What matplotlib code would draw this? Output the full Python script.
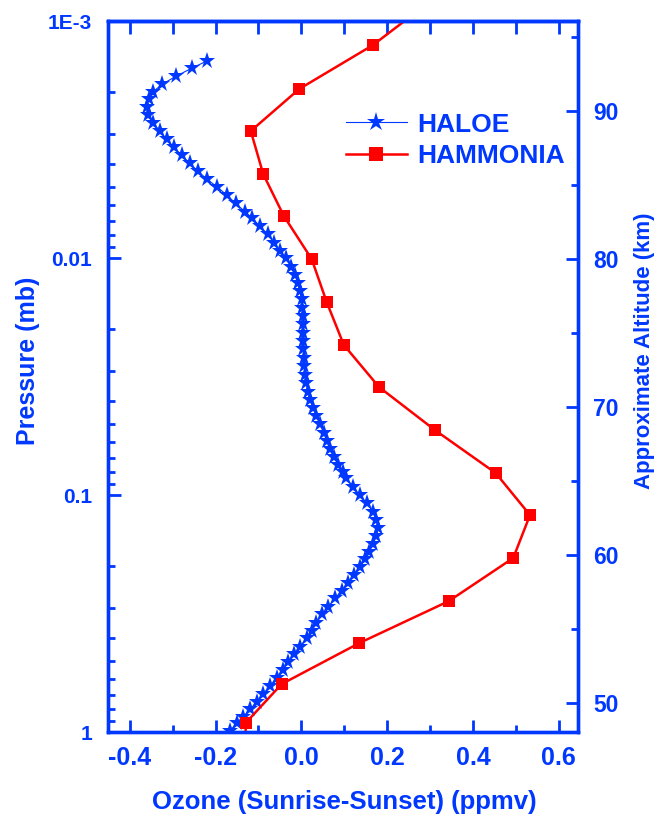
import matplotlib
matplotlib.use("Agg")
import matplotlib.pyplot as plt
from matplotlib.ticker import FixedLocator, FixedFormatter, MultipleLocator, LogLocator, NullFormatter

# HALOE sunrise-minus-sunset ozone (ppmv) vs approximate altitude (km)
haloe_alt = [93.40, 92.89, 92.34, 91.82, 91.30, 90.79, 90.25, 89.73, 89.21, 88.65,
             88.09, 87.55, 87.01, 86.47, 85.93, 85.39, 84.86, 84.32, 83.76, 83.21,
             82.75, 82.23, 81.69, 81.10, 80.56, 80.05, 79.48, 78.92, 78.40, 77.84,
             77.28, 76.71, 76.15, 75.59, 75.02, 74.46, 73.90, 73.33, 72.77, 72.16,
             71.62, 71.03, 70.47, 69.91, 69.39, 68.83, 68.26, 67.70, 67.14, 66.60,
             66.08, 65.63, 65.18, 64.61, 64.05, 63.53, 62.93, 62.36, 61.80, 61.28,
             60.74, 60.20, 59.71, 59.21, 58.65, 58.13, 57.59, 57.07, 56.51, 55.99,
             55.43, 54.86, 54.37, 53.80, 53.29, 52.75, 52.23, 51.71, 51.17, 50.61,
             50.09, 49.57, 49.07, 48.63, 48.14]
haloe_ozone = [-0.219, -0.256, -0.293, -0.324, -0.346, -0.356, -0.361, -0.357, -0.346, -0.330,
               -0.314, -0.297, -0.279, -0.260, -0.241, -0.220, -0.196, -0.174, -0.153, -0.132,
               -0.114, -0.097, -0.079, -0.064, -0.050, -0.036, -0.025, -0.015, -0.009, -0.004,
               0.001, 0.002, 0.003, 0.003, 0.004, 0.004, 0.004, 0.006, 0.007, 0.008,
               0.011, 0.015, 0.020, 0.028, 0.035, 0.043, 0.052, 0.059, 0.066, 0.076,
               0.086, 0.096, 0.105, 0.121, 0.136, 0.152, 0.167, 0.175, 0.179, 0.175,
               0.167, 0.158, 0.148, 0.136, 0.122, 0.108, 0.094, 0.078, 0.063, 0.049,
               0.035, 0.024, 0.012, -0.004, -0.017, -0.031, -0.044, -0.058, -0.073, -0.089,
               -0.104, -0.120, -0.136, -0.150, -0.167]

# HAMMONIA model levels
hammonia_alt = [97.4, 94.46, 91.49, 88.65, 85.74, 82.91, 80.0, 77.09, 74.19, 71.35,
                68.45, 65.54, 62.70, 59.80, 56.89, 54.05, 51.28, 48.65, 45.8]
hammonia_ozone = [0.30, 0.167, -0.005, -0.118, -0.089, -0.041, 0.024, 0.059, 0.099, 0.181,
                  0.311, 0.453, 0.533, 0.494, 0.344, 0.135, -0.046, -0.130, -0.130]

pressure_ticks = [1e-3, 1e-2, 1e-1, 1]
pressure_labels = ["1E-3", "0.01", "0.1", "1"]
alt_ticks = [50, 60, 70, 80, 90]

blue = "#0038ff"
red = "#ff0000"

plt.rcParams["font.family"] = ["Liberation Sans", "DejaVu Sans"]
plt.rcParams["font.weight"] = "bold"
plt.rcParams["axes.unicode_minus"] = False

fig = plt.figure(figsize=(6.65, 8.19), dpi=100)
ax = fig.add_axes([0.1617, 0.1062, 0.7075, 0.8681])

# pressure axis (left)
ax.set_yscale("log")
ax.set_ylim(1, 1e-3)
ax.set_xlim(-0.452, 0.645)
ax.yaxis.set_major_locator(FixedLocator(pressure_ticks))
ax.yaxis.set_major_formatter(FixedFormatter(pressure_labels))
ax.yaxis.set_minor_locator(LogLocator(base=10, subs=range(2, 10)))
ax.yaxis.set_minor_formatter(NullFormatter())
ax.xaxis.set_major_locator(MultipleLocator(0.2))
ax.xaxis.set_minor_locator(MultipleLocator(0.1))
ax.xaxis.set_major_formatter(lambda v, pos: "%.1f" % v)

for s in ax.spines.values():
    s.set_color(blue)
    s.set_linewidth(2.4)
ax.tick_params(which="both", direction="in", colors=blue, width=2,
               top=False, right=False, pad=11)
ax.tick_params(axis="y", labelsize=15)
ax.tick_params(axis="x", labelsize=18, pad=10)
ax.tick_params(which="major", length=9)
ax.tick_params(which="minor", length=5)

ax.set_ylabel("Pressure (mb)", color=blue, fontsize=18, fontweight="bold")
ax.yaxis.set_label_coords(-0.1435, 0.522)
ax.set_xlabel("Ozone (Sunrise-Sunset) (ppmv)", color=blue, fontsize=18.5, fontweight="bold")
ax.xaxis.set_label_coords(0.503, -0.082)

# top edge: every 0.1 tick drawn full length
top = ax.secondary_xaxis("top")
top.xaxis.set_major_locator(MultipleLocator(0.1))
top.tick_params(direction="in", length=9, width=2, colors=blue, labeltop=False)
top.spines["top"].set_color(blue)
top.spines["top"].set_linewidth(2.4)

# altitude axis (right)
ax2 = ax.twinx()
ax2.set_ylim(48.04, 96.08)
ax2.yaxis.set_major_locator(FixedLocator(alt_ticks))
ax2.yaxis.set_minor_locator(MultipleLocator(5))
for s in ax2.spines.values():
    s.set_color(blue)
    s.set_linewidth(2.4)
ax2.tick_params(which="both", direction="in", colors=blue, width=2, labelsize=16.5, pad=11)
ax2.tick_params(which="major", length=9)
ax2.tick_params(which="minor", length=5)
ax2.set_ylabel("Approximate Altitude (km)", color=blue, fontsize=16, fontweight="bold",
               rotation=90)
ax2.yaxis.set_label_coords(1.119, 0.536)

for lbl in ax.get_xticklabels() + ax.get_yticklabels() + ax2.get_yticklabels():
    lbl.set_fontweight("bold")

ax2.plot(haloe_ozone, haloe_alt, color=blue, lw=0.8, marker="*", markersize=12.5,
         markeredgewidth=0, label="HALOE")
ax2.plot(hammonia_ozone, hammonia_alt, color=red, lw=1.8, marker="s", markersize=9,
         markeredgewidth=0, label="HAMMONIA")

leg = ax2.legend(loc="center left", bbox_to_anchor=(0.507, 0.832), frameon=False,
                 fontsize=19, borderpad=0, borderaxespad=0, handlelength=2.3,
                 handletextpad=0.4, labelspacing=0.3, markerscale=1.1)
for t in leg.get_texts():
    t.set_color(blue)
    t.set_fontweight("bold")

fig.savefig("out.png", dpi=100)
